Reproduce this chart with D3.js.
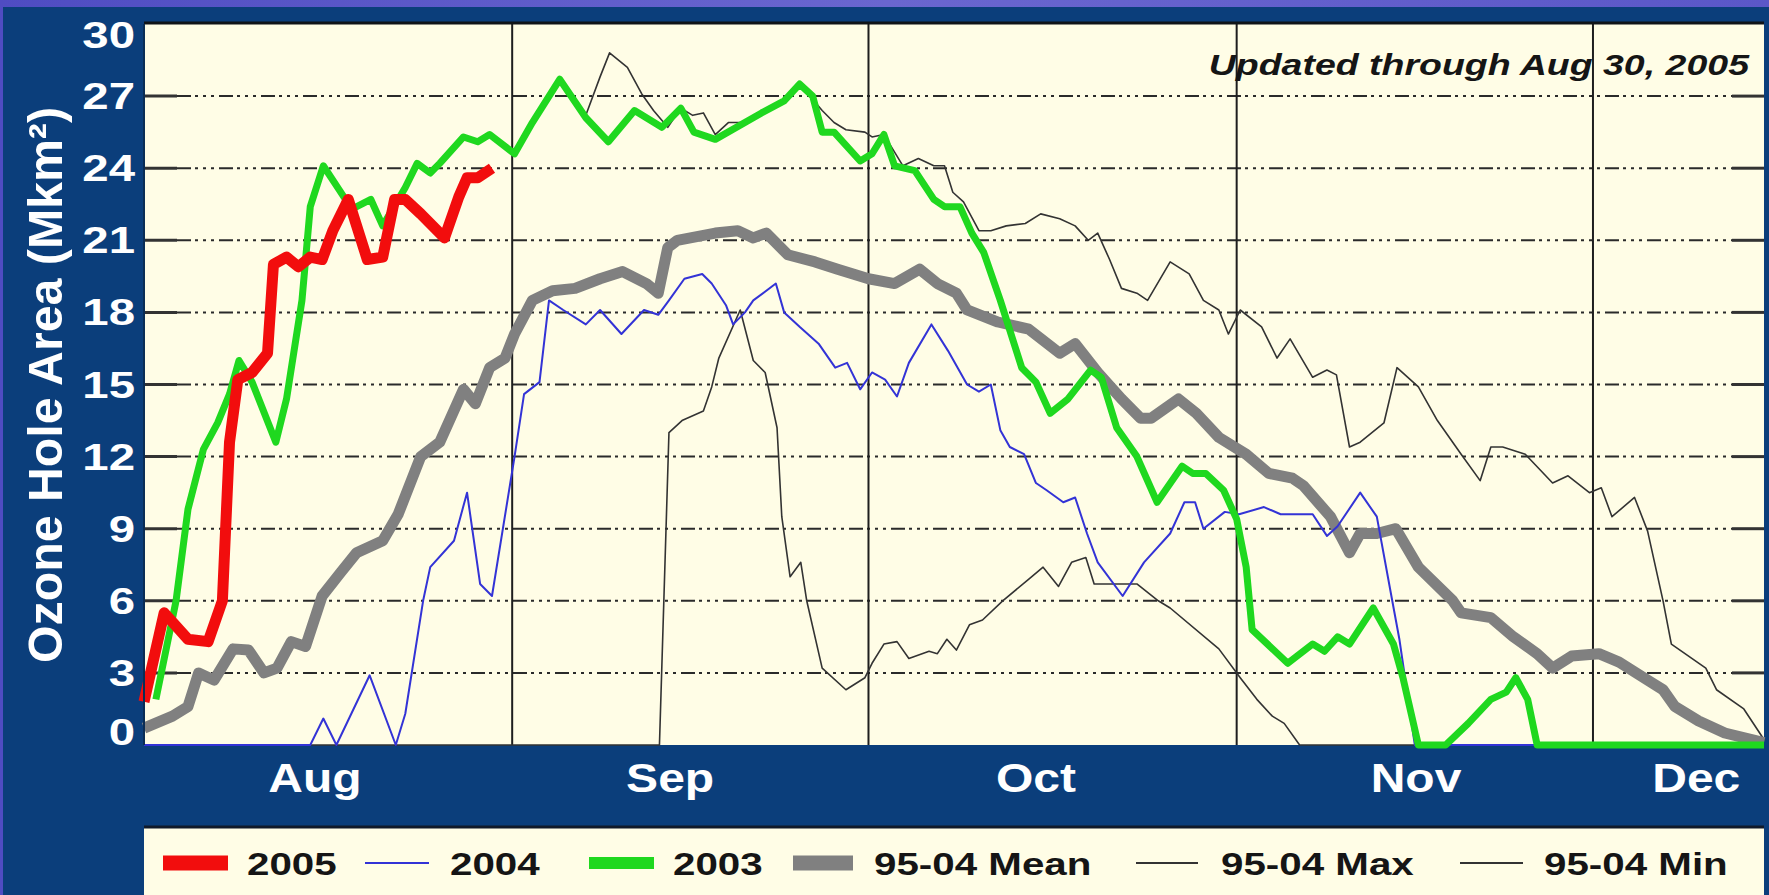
<!DOCTYPE html>
<html><head><meta charset="utf-8">
<script src="https://cdn.jsdelivr.net/npm/d3@7"></script>
<style>html,body{margin:0;padding:0;background:#0b3e7b;overflow:hidden}</style>
</head><body>
<svg id="c" width="1769" height="895"></svg>
<script>
// ---------------- DATA (day index: 0 = Aug 1; values in million km²) ----------------
const monthLabels = ["Aug", "Sep", "Oct", "Nov", "Dec"];
const monthLabelDays = [14.4, 44.3, 75.1, 107.1, 130.7];
const monthStartDays = [31, 61, 92, 122];
const yTicks = [0, 3, 6, 9, 12, 15, 18, 21, 24, 27, 30];

const days2005 = [0, 1.7, 3.7, 5.4, 6.6, 7.2, 7.9, 9.1, 10.4, 10.9, 12.0, 13.0, 14.0, 15.0, 15.9, 17.2, 18.8, 20.1, 21.1, 22.0, 23.3, 25.3, 26.5, 27.2, 28.1, 29.3];
const vals2005 = [1.8, 5.5, 4.4, 4.3, 6.0, 12.6, 15.2, 15.5, 16.3, 20.0, 20.3, 19.9, 20.3, 20.2, 21.4, 22.7, 20.2, 20.3, 22.7, 22.7, 22.1, 21.1, 22.8, 23.6, 23.6, 24.0];

const days2004 = [0, 14.0, 15.1, 16.2, 19.0, 21.2, 22.0, 23.5, 24.1, 26.1, 27.2, 28.3, 29.3, 31.2, 32.0, 33.3, 34.1, 35.3, 37.2, 38.4, 40.2, 42.1, 43.3, 44.2, 45.5, 47.0, 47.8, 49.0, 49.6, 50.6, 51.3, 53.2, 53.9, 55.2, 56.8, 58.2, 59.2, 60.3, 61.3, 62.4, 63.4, 64.4, 66.3, 67.7, 69.3, 70.3, 71.3, 72.1, 72.9, 74.1, 75.1, 76.0, 77.4, 78.4, 79.4, 80.3, 82.4, 84.2, 86.4, 87.6, 88.5, 89.2, 91.0, 92.2, 94.3, 95.7, 98.4, 99.6, 100.5, 102.4, 103.8, 105.1, 105.7, 107.0, 136.4];
const vals2004 = [0, 0, 1.1, 0, 2.9, 0, 1.3, 6.0, 7.4, 8.5, 10.5, 6.7, 6.2, 12.0, 14.6, 15.1, 18.5, 18.1, 17.5, 18.1, 17.1, 18.1, 17.9, 18.5, 19.4, 19.6, 19.2, 18.3, 17.5, 18.0, 18.5, 19.2, 18.0, 17.4, 16.7, 15.7, 15.9, 14.8, 15.5, 15.2, 14.5, 15.9, 17.5, 16.4, 15.0, 14.7, 15.0, 13.1, 12.4, 12.1, 10.9, 10.6, 10.1, 10.3, 8.8, 7.6, 6.2, 7.6, 8.8, 10.1, 10.1, 9.0, 9.7, 9.6, 9.9, 9.6, 9.6, 8.7, 9.1, 10.5, 9.5, 6.0, 4.4, 0, 0];

const days2003 = [1.0, 2.7, 3.7, 5.0, 6.2, 7.2, 8.0, 9.1, 11.1, 12.0, 13.3, 14.0, 15.1, 16.3, 17.5, 19.1, 20.1, 22.0, 23.0, 24.1, 24.9, 26.9, 28.1, 29.1, 31.2, 32.7, 35.0, 37.2, 39.1, 41.3, 43.6, 45.2, 46.3, 48.1, 52.0, 53.9, 55.2, 56.3, 57.1, 58.1, 60.3, 61.3, 62.3, 63.2, 64.9, 66.5, 67.4, 68.7, 69.7, 70.7, 72.1, 73.9, 75.1, 76.3, 77.8, 79.7, 80.6, 81.9, 83.6, 85.3, 87.4, 88.3, 89.4, 90.9, 92.0, 92.8, 93.3, 96.3, 98.4, 99.4, 100.5, 101.5, 103.5, 105.2, 106.0, 107.3, 109.6, 111.5, 113.4, 114.7, 115.5, 116.5, 117.3, 136.4];
const vals2003 = [1.9, 6.0, 9.8, 12.3, 13.4, 14.6, 16.0, 15.1, 12.6, 14.4, 18.5, 22.4, 24.1, 23.2, 22.3, 22.7, 21.6, 23.2, 24.2, 23.8, 24.2, 25.3, 25.1, 25.4, 24.6, 25.9, 27.7, 26.1, 25.1, 26.4, 25.7, 26.5, 25.5, 25.2, 26.3, 26.8, 27.5, 27.0, 25.5, 25.5, 24.3, 24.6, 25.4, 24.1, 23.9, 22.7, 22.4, 22.4, 21.3, 20.5, 18.5, 15.7, 15.1, 13.8, 14.4, 15.6, 15.3, 13.2, 12.0, 10.1, 11.6, 11.3, 11.3, 10.6, 9.4, 7.4, 4.8, 3.4, 4.2, 3.9, 4.5, 4.2, 5.7, 4.2, 2.8, 0, 0, 0.9, 1.9, 2.2, 2.8, 1.9, 0, 0];

const daysMean = [0, 2.4, 3.7, 4.6, 5.9, 7.5, 8.8, 10.1, 11.2, 12.4, 13.6, 15.0, 16.6, 17.9, 20.1, 21.4, 23.3, 24.9, 26.9, 27.9, 29.1, 30.4, 31.2, 32.7, 34.4, 36.3, 38.4, 40.3, 42.3, 43.3, 44.1, 44.9, 48.1, 50.0, 51.3, 52.4, 54.2, 56.5, 58.4, 61.0, 63.2, 65.3, 66.8, 68.4, 69.3, 71.9, 74.5, 77.1, 78.4, 80.3, 82.3, 83.9, 84.8, 87.1, 88.6, 90.5, 92.8, 94.7, 96.7, 97.6, 99.9, 101.5, 102.4, 103.8, 105.4, 107.3, 110.2, 110.9, 113.4, 115.3, 117.3, 118.6, 120.2, 122.5, 124.2, 126.6, 127.9, 128.9, 130.9, 133.1, 136.4];
const valsMean = [0.7, 1.2, 1.6, 3.0, 2.7, 4.0, 3.95, 3.0, 3.2, 4.3, 4.1, 6.2, 7.2, 8.0, 8.5, 9.6, 12.0, 12.6, 14.8, 14.2, 15.7, 16.1, 17.1, 18.5, 18.9, 19.0, 19.4, 19.7, 19.2, 18.8, 20.7, 21.0, 21.3, 21.4, 21.1, 21.3, 20.4, 20.1, 19.8, 19.4, 19.2, 19.8, 19.2, 18.8, 18.1, 17.6, 17.3, 16.3, 16.7, 15.5, 14.4, 13.6, 13.6, 14.4, 13.8, 12.8, 12.1, 11.3, 11.1, 10.8, 9.5, 8.0, 8.8, 8.8, 9.0, 7.4, 6.0, 5.5, 5.3, 4.5, 3.8, 3.2, 3.7, 3.8, 3.45, 2.7, 2.3, 1.6, 1.0, 0.5, 0.1];

const daysMax = [37.2, 38.4, 39.2, 40.7, 41.9, 42.9, 44.1, 45.2, 46.2, 47.1, 48.1, 49.2, 50.6, 52.0, 53.9, 55.2, 57.1, 58.1, 59.1, 60.7, 61.3, 62.3, 63.9, 65.2, 66.5, 67.4, 68.1, 69.0, 70.3, 71.3, 72.6, 74.2, 75.5, 77.1, 78.4, 79.5, 80.3, 81.3, 82.3, 83.6, 84.5, 86.4, 88.0, 89.2, 90.5, 91.3, 92.3, 94.1, 95.4, 96.5, 98.4, 99.6, 100.4, 101.5, 102.4, 104.4, 105.5, 107.3, 108.9, 110.9, 112.5, 113.4, 114.4, 116.3, 118.6, 119.9, 121.7, 122.7, 123.6, 125.5, 126.6, 127.9, 128.6, 131.5, 132.4, 134.7, 136.3];
const valsMax = [26.2, 27.8, 28.8, 28.2, 27.1, 26.4, 25.7, 26.5, 26.2, 26.3, 25.4, 25.9, 25.9, 26.3, 26.8, 27.5, 26.4, 25.9, 25.6, 25.5, 25.3, 25.4, 24.1, 24.4, 24.1, 24.1, 23.0, 22.6, 21.4, 21.4, 21.6, 21.7, 22.1, 21.9, 21.6, 21.0, 21.3, 20.2, 19.0, 18.8, 18.5, 20.1, 19.6, 18.5, 18.1, 17.1, 18.1, 17.4, 16.1, 16.9, 15.3, 15.6, 15.4, 12.4, 12.6, 13.4, 15.7, 14.9, 13.5, 12.1, 11.0, 12.4, 12.4, 12.1, 10.9, 11.2, 10.5, 10.7, 9.5, 10.3, 8.9, 6.0, 4.2, 3.2, 2.3, 1.5, 0.3];

const daysMin = [0, 43.4, 44.2, 45.3, 47.1, 47.8, 48.4, 50.2, 51.3, 52.3, 53.3, 53.7, 54.4, 55.3, 55.8, 57.1, 59.1, 60.7, 61.3, 62.3, 63.4, 64.4, 66.1, 66.8, 67.6, 68.4, 69.5, 70.6, 72.3, 74.5, 75.7, 77.0, 78.1, 79.3, 80.0, 83.6, 85.4, 86.4, 90.5, 92.3, 93.7, 95.0, 96.0, 97.3, 136.4];
const valsMin = [0, 0, 13.0, 13.5, 13.9, 14.9, 16.1, 18.1, 16.0, 15.5, 13.2, 9.5, 7.0, 7.6, 6.0, 3.2, 2.3, 2.8, 3.4, 4.2, 4.3, 3.6, 3.9, 3.8, 4.4, 3.95, 5.0, 5.2, 6.0, 6.9, 7.4, 6.6, 7.6, 7.8, 6.7, 6.7, 6.0, 5.7, 4.0, 2.8, 1.9, 1.2, 0.9, 0, 0];

const seriesNames = ["2005", "2004", "2003", "95-04 Mean", "95-04 Max", "95-04 Min"];
const noteText = "Updated through Aug 30, 2005";
const yTitle = "Ozone Hole Area (Mkm²)";

// ---------------- STYLE / LAYOUT ----------------
const W = 1769, H = 895;
const NAVY = "#0b3e7b", CREAM = "#fffde6";
const FONT = "'Liberation Sans', Arial, Helvetica, sans-serif";
const P = {l: 144, r: 1764, t: 24, b: 745};
const styles = {
  "2005": {color: "#f20d0d", width: 11, legendW: 15},
  "2004": {color: "#3333d6", width: 2, legendW: 2},
  "2003": {color: "#1fd81f", width: 7, legendW: 12},
  "95-04 Mean": {color: "#808080", width: 11, legendW: 15},
  "95-04 Max": {color: "#333333", width: 1.6, legendW: 2},
  "95-04 Min": {color: "#333333", width: 1.6, legendW: 2}
};
const legendLayout = [
  {sw: [163, 228], tx: 247}, {sw: [365, 429], tx: 450}, {sw: [589, 654], tx: 673},
  {sw: [793, 853], tx: 874}, {sw: [1136, 1198], tx: 1221}, {sw: [1460, 1523], tx: 1544}
];

const svg = d3.select("#c");
const defs = svg.append("defs");
const pg = defs.append("linearGradient").attr("id", "pg").attr("x1", 0).attr("x2", 1).attr("y1", 0).attr("y2", 0);
pg.append("stop").attr("offset", "0").attr("stop-color", "#4f4cc2");
pg.append("stop").attr("offset", "0.5").attr("stop-color", "#6a66cf");
pg.append("stop").attr("offset", "1").attr("stop-color", "#5b57c8");

svg.append("rect").attr("width", W).attr("height", H).attr("fill", NAVY);
svg.append("rect").attr("x", 0).attr("y", 0).attr("width", W).attr("height", 7).attr("fill", "url(#pg)");
svg.append("rect").attr("x", 0).attr("y", 0).attr("width", 3).attr("height", H).attr("fill", "#4f4cc2");

const x = d3.scaleLinear().domain([0, 136.4]).range([P.l, P.r]);
const y = d3.scaleLinear().domain([0, 30]).range([P.b, P.t]);

// plot area
svg.append("rect").attr("x", P.l).attr("y", P.t).attr("width", P.r - P.l).attr("height", P.b - P.t).attr("fill", CREAM);

// gridlines
const gridVals = yTicks.filter(v => v > 0 && v < 30);
const g = svg.append("g");
g.selectAll(".gd").data(gridVals).join("line")
  .attr("x1", P.l + 33).attr("x2", P.r - 32)
  .attr("y1", d => y(d)).attr("y2", d => y(d))
  .attr("stroke", "#2a2a2a").attr("stroke-width", 2)
  .attr("stroke-dasharray", "14,4,3,5,3,5,3,5");
g.selectAll(".sl").data(gridVals).join("line")
  .attr("x1", P.l).attr("x2", P.l + 33).attr("y1", d => y(d)).attr("y2", d => y(d))
  .attr("stroke", "#333").attr("stroke-width", 3);
g.selectAll(".sr").data(gridVals).join("line")
  .attr("x1", P.r - 32).attr("x2", P.r).attr("y1", d => y(d)).attr("y2", d => y(d))
  .attr("stroke", "#333").attr("stroke-width", 3);

// month boundary lines
g.selectAll(".ml").data(monthStartDays).join("line")
  .attr("x1", d => x(d)).attr("x2", d => x(d)).attr("y1", P.t).attr("y2", P.b)
  .attr("stroke", "#1e1e1e").attr("stroke-width", 2);

// series
const line = d3.line().x(d => x(d[0])).y(d => y(d[1])).curve(d3.curveLinear);
const seriesData = {
  "95-04 Min": d3.zip(daysMin, valsMin),
  "95-04 Max": d3.zip(daysMax, valsMax),
  "95-04 Mean": d3.zip(daysMean, valsMean),
  "2004": d3.zip(days2004, vals2004),
  "2003": d3.zip(days2003, vals2003),
  "2005": d3.zip(days2005, vals2005)
};
const drawOrder = ["95-04 Min", "95-04 Max", "95-04 Mean", "2004", "2003", "2005"];
svg.append("g").selectAll("path").data(drawOrder).join("path")
  .attr("d", k => line(seriesData[k]))
  .attr("fill", "none")
  .attr("stroke", k => styles[k].color)
  .attr("stroke-width", k => styles[k].width)
  .attr("stroke-linejoin", "round").attr("stroke-linecap", "butt");

// borders
svg.append("line").attr("x1", P.l).attr("x2", P.r).attr("y1", P.t - 1).attr("y2", P.t - 1).attr("stroke", "#101418").attr("stroke-width", 3);
svg.append("line").attr("x1", P.l).attr("x2", P.l).attr("y1", P.t).attr("y2", P.b).attr("stroke", "#0a2d55").attr("stroke-width", 2);

// helper to stretch text horizontally
function placeText(sel, anchorX, anchor, sx) {
  sel.each(function(d, i) {
    const w = this.getComputedTextLength();
    const tw = w * sx;
    const ax = typeof anchorX === "function" ? anchorX(d, i) : anchorX;
    const x0 = anchor === "end" ? ax - tw : anchor === "middle" ? ax - tw / 2 : ax;
    d3.select(this).attr("x", x0).attr("text-anchor", "start")
      .attr("textLength", tw).attr("lengthAdjust", "spacingAndGlyphs");
  });
}

// y tick labels
const yl = svg.append("g").selectAll("text").data(yTicks).join("text")
  .attr("y", d => Math.min(Math.max(y(d), 35), 732) + 13)
  .attr("font-family", FONT).attr("font-weight", "bold").attr("font-size", 37)
  .attr("fill", "#ffffff").text(d => d);
placeText(yl, 135, "end", 1.28);

// x month labels
const xl = svg.append("g").selectAll("text").data(monthLabels).join("text")
  .attr("y", 792)
  .attr("font-family", FONT).attr("font-weight", "bold").attr("font-size", 40)
  .attr("fill", "#ffffff").text(d => d);
placeText(xl, (d, i) => x(monthLabelDays[i]), "middle", 1.2);

// y title
svg.append("text")
  .attr("transform", "translate(62,663) rotate(-90)")
  .attr("font-family", FONT).attr("font-weight", "bold").attr("font-size", 48)
  .attr("fill", "#ffffff").attr("textLength", 556).attr("lengthAdjust", "spacingAndGlyphs")
  .text(yTitle);

// note
const nt = svg.append("text").attr("y", 75)
  .attr("font-family", FONT).attr("font-weight", "bold").attr("font-style", "italic").attr("font-size", 30)
  .attr("fill", "#151515").text(noteText);
placeText(nt, 1749, "end", 1.25);

// legend
svg.append("rect").attr("x", P.l).attr("y", 827).attr("width", P.r - P.l).attr("height", H - 827).attr("fill", CREAM);
svg.append("line").attr("x1", P.l).attr("x2", P.r).attr("y1", 827).attr("y2", 827).attr("stroke", "#111a2a").attr("stroke-width", 3);
const lg = svg.append("g");
lg.selectAll("line").data(seriesNames).join("line")
  .attr("x1", (d, i) => legendLayout[i].sw[0]).attr("x2", (d, i) => legendLayout[i].sw[1])
  .attr("y1", 863).attr("y2", 863)
  .attr("stroke", d => styles[d].color).attr("stroke-width", d => styles[d].legendW);
const lt = lg.selectAll("text").data(seriesNames).join("text")
  .attr("y", 875)
  .attr("font-family", FONT).attr("font-weight", "bold").attr("font-size", 32)
  .attr("fill", "#151515").text(d => d);
placeText(lt, (d, i) => legendLayout[i].tx, "start", 1.26);
</script>
</body></html>
